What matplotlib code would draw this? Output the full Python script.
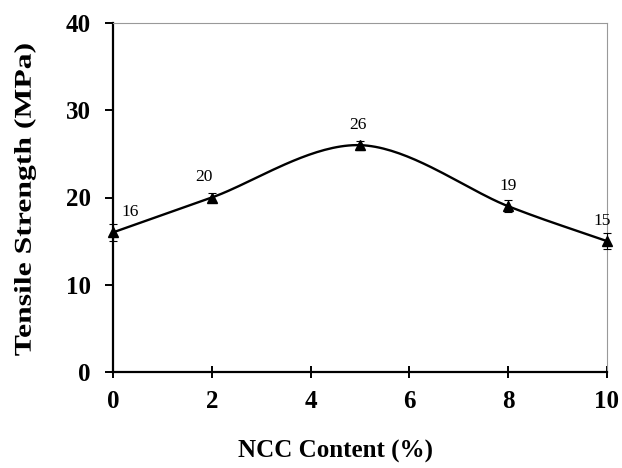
import numpy as np
import matplotlib
matplotlib.use("Agg")
import matplotlib.pyplot as plt
from matplotlib.textpath import TextPath
from matplotlib.font_manager import FontProperties
from matplotlib.patches import PathPatch
from matplotlib.transforms import Affine2D

# data
ncc = [0, 2, 5, 8, 10]
strength = [16, 20, 26, 19, 15]
err = [1.0, 0.5, 0.5, 0.7, 0.9]
labels = ["16", "20", "26", "19", "15"]
label_dx = [0.35, -0.15, -0.05, 0.0, -0.1]


def smooth_line(x, y, n=40):
    # catmull-rom through the points (like the spreadsheet "smoothed line")
    x = np.asarray(x, float)
    y = np.asarray(y, float)
    px = np.concatenate([[2 * x[0] - x[1]], x, [2 * x[-1] - x[-2]]])
    py = np.concatenate([[2 * y[0] - y[1]], y, [2 * y[-1] - y[-2]]])
    xs, ys = [], []
    t = np.linspace(0, 1, n)
    for i in range(1, len(px) - 2):
        for p, out in ((px, xs), (py, ys)):
            p0, p1, p2, p3 = p[i - 1], p[i], p[i + 1], p[i + 2]
            out.append(0.5 * ((2 * p1) + (-p0 + p2) * t
                              + (2 * p0 - 5 * p1 + 4 * p2 - p3) * t ** 2
                              + (-p0 + 3 * p1 - 3 * p2 + p3) * t ** 3))
    return np.concatenate(xs), np.concatenate(ys)


plt.rcParams['font.family'] = ['Liberation Serif', 'DejaVu Serif']

fig = plt.figure(figsize=(6.22, 4.68), dpi=100)
ax = fig.add_axes([113 / 622, 1 - 372 / 468, 494 / 622, 349 / 468])

sx, sy = smooth_line(ncc, strength)
ax.plot(sx, sy, color='black', lw=1.7, zorder=2)
ax.errorbar(ncc, strength, yerr=err, fmt='^', color='black', ms=7.5,
            ecolor='black', elinewidth=0.8, capsize=3, capthick=0.8, zorder=3,
            clip_on=False)

for x, y, lab, dx in zip(ncc, strength, labels, label_dx):
    ax.text(x + dx, y + 2.3, lab, ha='center', va='center', fontsize=12.5)

ax.set_xlim(0, 10)
ax.set_ylim(0, 40)
ax.set_xticks([0, 2, 4, 6, 8, 10])
ax.set_yticks([0, 10, 20, 30, 40])

for s in ('top', 'right'):
    ax.spines[s].set_color('#999999')
    ax.spines[s].set_linewidth(0.8)
for s in ('left', 'bottom'):
    ax.spines[s].set_linewidth(1.6)

ax.tick_params(axis='y', direction='out', length=6, width=1.4, pad=10)
ax.tick_params(axis='x', direction='inout', length=9, width=1.4, pad=8.5)
for lab in ax.get_xticklabels() + ax.get_yticklabels():
    lab.set_fontweight('bold')
    lab.set_fontsize(18)

fig.text(336 / 622, 1 - 451 / 468, 'NCC Content (%)', fontsize=18,
         fontweight='bold', ha='center', va='center')

# y label is drawn stretched along its length, as in the original
fp = FontProperties(family='Liberation Serif', weight='bold')
tp = TextPath((0, 0), 'Tensile Strength (MPa)', size=24, prop=fp)
ext = tp.get_extents()
tr = (Affine2D().translate(-(ext.x0 + ext.x1) / 2, -(ext.y0 + ext.y1) / 2)
      .scale(1.32, 1.0).rotate_deg(90).translate(25, 468 - 200))
fig.add_artist(PathPatch(tp, transform=tr, facecolor='black', lw=0))

fig.savefig('out.png', dpi=100)
